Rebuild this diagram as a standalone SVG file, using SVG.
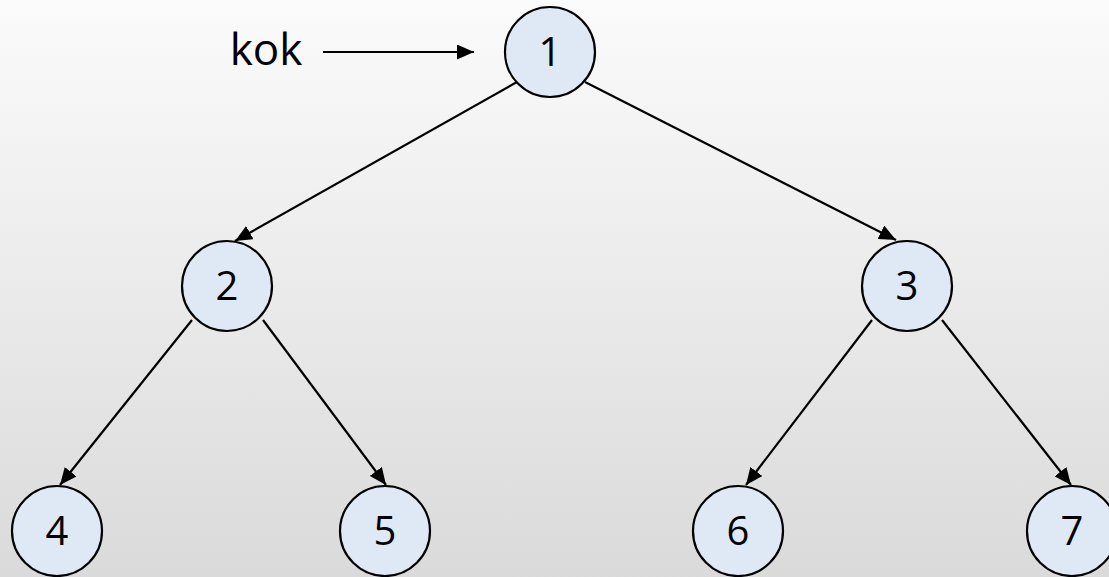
<svg xmlns="http://www.w3.org/2000/svg" width="1109" height="577" viewBox="0 0 1109 577">
<defs>
<linearGradient id="bg" x1="0" y1="0" x2="0" y2="1">
<stop offset="0" stop-color="#fbfbfb"/>
<stop offset="1" stop-color="#dadada"/>
</linearGradient>
<marker id="ah2" markerWidth="17" markerHeight="15" refX="17" refY="7.5" orient="auto" markerUnits="userSpaceOnUse" viewBox="0 0 17 15">
<path d="M0,0 L17,7.5 L0,15 z" fill="#000"/>
</marker>
</defs>
<style>
.n circle{fill:#dfe9f5;stroke:#000;stroke-width:2.2}
.n text,.lbl{font-family:"Open Sans","Liberation Sans",sans-serif;font-size:40px;fill:#000;text-anchor:middle}
.e line{stroke:#000;stroke-width:2.2;marker-end:url(#ah2)}
</style>
<rect width="1109" height="577" fill="url(#bg)"/>
<g id="connectors" class="e">
<line x1="323" y1="52" x2="474" y2="52"/>
<line x1="517" y1="82" x2="235" y2="241"/>
<line x1="585" y1="82" x2="896" y2="240"/>
<line x1="192" y1="320" x2="60" y2="485"/>
<line x1="263" y1="320" x2="386" y2="485"/>
<line x1="872" y1="320" x2="746" y2="485"/>
<line x1="942" y1="320" x2="1071" y2="485"/>
</g>
<text id="kok" class="lbl" x="266" y="65" style="font-size:44px">kok</text>
<g id="node1" class="n"><circle cx="550" cy="52" r="45"/><text x="550" y="66">1</text></g>
<g id="node2" class="n"><circle cx="227" cy="286" r="45"/><text x="227" y="300">2</text></g>
<g id="node3" class="n"><circle cx="907" cy="286" r="45"/><text x="907" y="300">3</text></g>
<g id="node4" class="n"><circle cx="57" cy="531" r="45"/><text x="57" y="545">4</text></g>
<g id="node5" class="n"><circle cx="385" cy="531" r="45"/><text x="385" y="545">5</text></g>
<g id="node6" class="n"><circle cx="738" cy="531" r="45"/><text x="738" y="545">6</text></g>
<g id="node7" class="n"><circle cx="1072" cy="531" r="45"/><text x="1072" y="545">7</text></g>
</svg>
